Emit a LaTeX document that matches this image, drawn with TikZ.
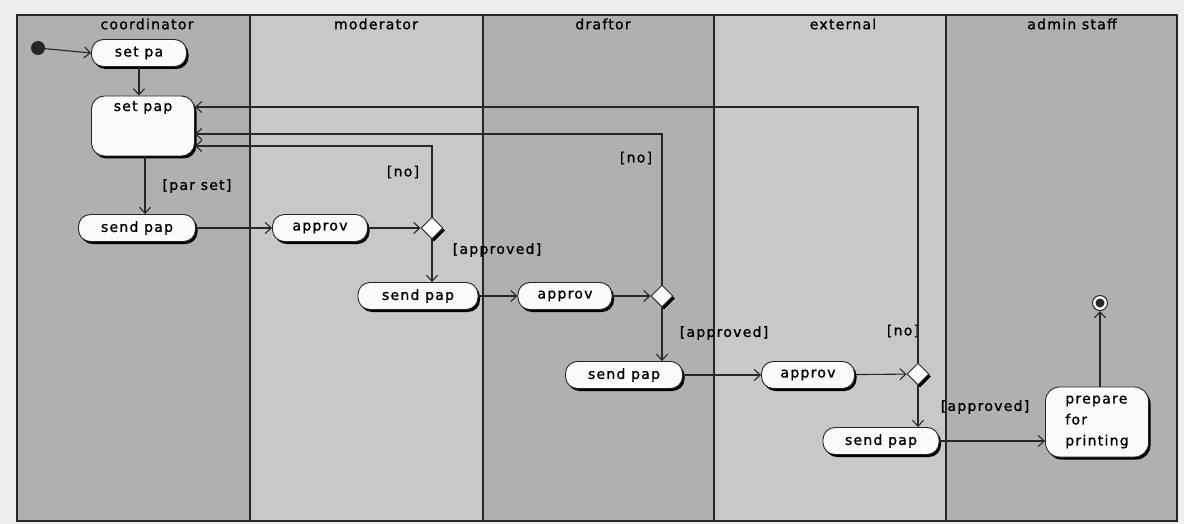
\documentclass[tikz,border=0pt]{standalone}
\usepackage{fontspec}
\setsansfont[LetterSpace=9,FakeBold=1.2]{DejaVu Sans}
\usetikzlibrary{arrows.meta,shapes.geometric,shadows}
\definecolor{Paper}{HTML}{EFEFEF}
\definecolor{LaneDark}{HTML}{B0B0B0}
\definecolor{LaneLight}{HTML}{C8C8C8}
\definecolor{Ink}{HTML}{262626}
\definecolor{Bubble}{HTML}{FAFAFA}

\begin{document}
\begin{tikzpicture}[
  x=1pt,y=-1pt,
  font=\sffamily\fontsize{14}{16}\selectfont,
  lane/.style={draw=Ink,line width=1.3pt},
  lanename/.style={inner sep=0pt},
  action/.style={
    draw=Ink,
    fill=Bubble,
    line width=0.9pt,
    rounded corners=12pt,
    minimum height=27pt,
    inner sep=2pt,
    drop shadow={shadow xshift=2pt,shadow yshift=-2.5pt,opacity=1,fill=black}
  },
  choice/.style={
    diamond,
    draw=Ink,
    fill=Bubble,
    line width=0.9pt,
    minimum size=22pt,
    inner sep=0pt,
    drop shadow={shadow xshift=2pt,shadow yshift=-2.5pt,opacity=1,fill=black}
  },
  guard/.style={inner sep=0pt},
  flow/.style={-{Straight Barb[length=6pt,width=11pt]},draw=Ink,line width=1.1pt}
]
\useasboundingbox[fill=Paper] (0,0) rectangle (1184,524);

% swimlanes
\fill[LaneDark]  (17,15)  rectangle (250,521);
\fill[LaneLight] (250,15) rectangle (483,521);
\fill[LaneDark]  (483,15) rectangle (714,521);
\fill[LaneLight] (714,15) rectangle (946,521);
\fill[LaneDark]  (946,15) rectangle (1177,521);
\draw[lane] (17,15) rectangle (1177,521);
\foreach \x in {250,483,714,946}
  \draw[lane] (\x,15) -- (\x,521);

\node[lanename] (coord) at (147,24) {coordinator};
\node[lanename] (moder) at (376,24) {moderator};
\node[lanename] (draft) at (603,24) {draftor};
\node[lanename] (extern) at (843,24) {external};
\node[lanename] (admin) at (1072,24) {admin staff};

% activities
\fill[Ink] (38,48) circle (7pt) coordinate (start);
\node[action,minimum width=95pt] (setpa) at (139,53) {set pa};
\node[action,minimum width=103pt,rounded corners=13pt,
      text height=11pt,text depth=41pt,inner ysep=4pt] (setpap) at (143,126) {set pap};
\node[action,minimum width=117pt] (sendA) at (137,228) {send pap};
\node[action,minimum width=95pt] (apprA) at (320,228) {approv};
\node[choice] (dA) at (432,228) {};
\node[action,minimum width=120pt] (sendB) at (418,296) {send pap};
\node[action,minimum width=94pt] (apprB) at (565,296) {approv};
\node[choice] (dB) at (662,296) {};
\node[action,minimum width=117pt] (sendC) at (624,375) {send pap};
\node[action,minimum width=93pt] (apprC) at (808,375) {approv};
\node[choice] (dC) at (918,374) {};
\node[action,minimum width=116pt] (sendD) at (881,441) {send pap};
\node[action,minimum width=103pt,minimum height=70pt,rounded corners=14pt,
      align=left,font=\sffamily\fontsize{14}{21}\selectfont] (prep) at (1097,422) {prepare\\for\\printing};
\node[circle,draw=Ink,fill=Bubble,line width=1pt,minimum size=15pt,inner sep=0pt] (stop) at (1100,303) {};
\fill[Ink] (stop) circle (4.5pt);

% guards
\node[guard] (parset) at (197,186) {[par set]};
\node[guard] (noA) at (403,172) {[no]};
\node[guard] (okA) at (497,250) {[approved]};
\node[guard] (noB) at (636,158) {[no]};
\node[guard] (okB) at (724,333) {[approved]};
\node[guard] (noC) at (903,331) {[no]};
\node[guard] (okC) at (985,407) {[approved]};

% transitions
\draw[flow] (start) -- (setpa.west);
\draw[flow] (setpa.south) -- (setpa.south |- setpap.north);
\draw[flow] ([xshift=2pt]setpap.south) -- ([xshift=2pt]setpap.south |- sendA.north);
\draw[flow] (sendA) -- (apprA);
\draw[flow] (apprA) -- (dA);
\draw[flow] (dA.north) |- ([yshift=-20pt]setpap.east);
\draw[flow] (dA.south) -- (dA.south |- sendB.north);
\draw[flow] (sendB) -- (apprB);
\draw[flow] (apprB) -- (dB);
\draw[flow] (dB.north) |- ([yshift=-8pt]setpap.east);
\draw[flow] (dB.south) -- (dB.south |- sendC.north);
\draw[flow] (sendC) -- (apprC);
\draw[flow] (apprC) -- (dC);
\draw[flow] (dC.north) |- ([yshift=19pt]setpap.east);
\draw[flow] (dC.south) -- (dC.south |- sendD.north);
\draw[flow] (sendD.east) -- (sendD.east -| prep.west);
\draw[flow] (stop |- prep.north) -- (stop.south);
\end{tikzpicture}
\end{document}
